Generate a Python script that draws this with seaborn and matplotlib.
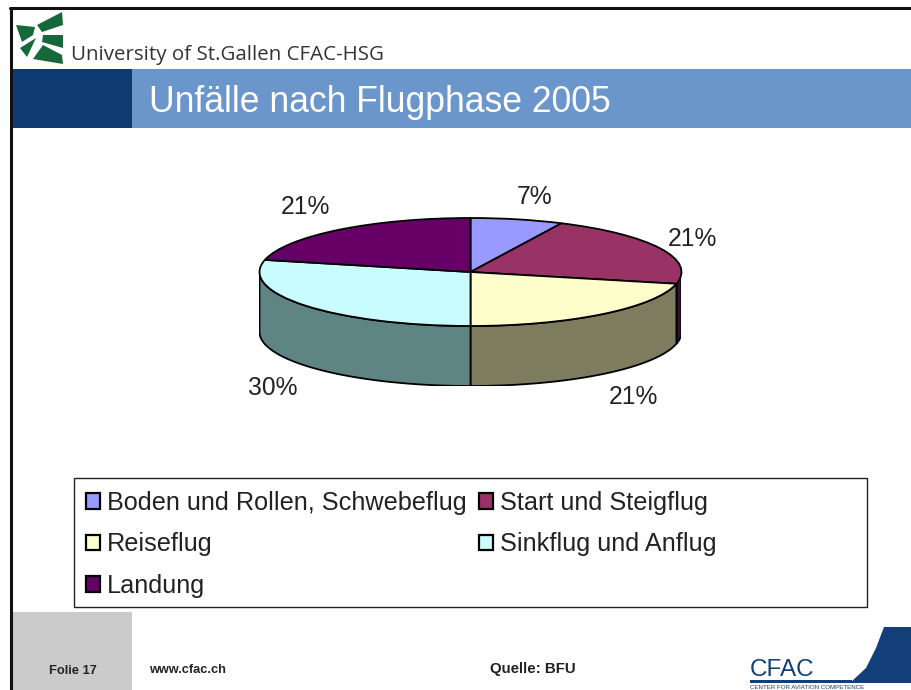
import numpy as np
import matplotlib
matplotlib.use("Agg")
import matplotlib.pyplot as plt
from matplotlib.patches import Rectangle, Polygon
import seaborn as sns

# ---- data ----
categories = ["Boden und Rollen, Schwebeflug", "Start und Steigflug", "Reiseflug",
              "Sinkflug und Anflug", "Landung"]
slice_shares = [7.1, 21.4, 21.5, 28.6, 21.4]
value_labels = ["7%", "21%", "21%", "30%", "21%"]
title_text = "Unfälle nach Flugphase 2005"
colors = ["#9999ff", "#993366", "#ffffcc", "#c8fcff", "#660066"]
wall_colors = ["#4a4a7a", "#3d0f33", "#7e7c5e", "#5f8484", "#330033"]

# ---- layout ----
sns.set_theme(style="white")
W, H = 912, 690
fig = plt.figure(figsize=(W / 100, H / 100), dpi=100, facecolor="white")
ax = fig.add_axes([0, 0, 1, 1])
ax.set_xlim(0, W)
ax.set_ylim(H, 0)
ax.axis("off")

# slide frame and bands
ax.plot([11, 11], [8, 690], color="#111111", lw=2.2)
ax.plot([10, 912], [8, 8], color="#111111", lw=2.2)
ax.add_patch(Rectangle((12, 69), 120, 59, fc="#0e3a72", ec="none"))
ax.add_patch(Rectangle((132, 69), 780, 59, fc="#6a96cb", ec="none"))
ax.add_patch(Rectangle((12, 612), 120, 78, fc="#cbcbcb", ec="none"))

# university logo
logo_green = "#14683a"
for pts in ([(37, 25), (62, 12), (63, 25), (42, 32)],
            [(16, 25), (35, 27), (33, 35), (22, 42)],
            [(43, 35), (63, 35), (63, 48), (42, 42)],
            [(20, 48), (36, 38), (27, 57)],
            [(43, 45), (62, 55), (63, 64), (33, 59)]):
    ax.add_patch(Polygon(pts, closed=True, fc=logo_green, ec="none"))

ax.text(71, 55, "University of St.Gallen CFAC-HSG", fontsize=14.75, family="Open Sans",
        color="#333333", va="center", ha="left")
ax.text(149, 103, title_text, fontsize=25.6, family="Liberation Sans",
        color="white", va="center", ha="left")

# footer
ax.text(49, 671, "Folie 17", fontsize=9.3, family="Liberation Sans", weight="bold",
        color="#222222", va="center")
ax.text(149, 670, "www.cfac.ch", fontsize=9.2, family="Liberation Sans", weight="bold",
        color="#222222", va="center")
ax.text(490, 669, "Quelle: BFU", fontsize=10.8, family="Liberation Sans", weight="bold",
        color="#222222", va="center")
ax.add_patch(Polygon([(884, 627), (912, 627), (912, 683), (850, 683), (866, 668), (876, 648)],
                     closed=True, fc="#123f7a", ec="none"))
ax.add_patch(Rectangle((750, 680), 102, 3, fc="#123f7a", ec="none"))
ax.text(750, 670, "CFAC", fontsize=17.5, family="Liberation Sans", color="#123f7a", va="center")
ax.text(750, 687.5, "CENTER FOR AVIATION COMPETENCE", fontsize=4.4, family="Liberation Sans",
        color="#123f7a", va="center")

# pie, squashed to an ellipse, with a drawn side wall
cx, cy, rx, ry, depth = 470.5, 272, 211, 54, 60
pie_ax = fig.add_axes([(cx - rx) / W, 1 - (cy + ry + depth) / H,
                       2 * rx / W, (2 * ry + depth) / H])
pie_ax.patch.set_alpha(0)
d = depth / ry

# side wall from the same shares
edges = 90 - np.cumsum([0] + slice_shares) * 3.6
for a0, a1, wc in zip(edges[:-1], edges[1:], wall_colors):
    lo, hi = max(a1, -180), min(a0, 0)   # visible front half only
    if hi <= lo:
        continue
    t = np.radians(np.linspace(hi, lo, 80))
    xs = np.cos(t)
    ys = np.sin(t)
    pts = np.column_stack([np.r_[xs, xs[::-1]], np.r_[ys, ys[::-1] - d]])
    pie_ax.add_patch(Polygon(pts, closed=True, fc=wc, ec="black", lw=1.3, zorder=1))

wedges, _ = pie_ax.pie(slice_shares, colors=colors, startangle=90, counterclock=False,
                       radius=1, wedgeprops=dict(edgecolor="black", linewidth=1.3, zorder=3))
for w in wedges:
    w.set_zorder(3)
pie_ax.set_aspect("auto")
pie_ax.set_xlim(-1, 1)
pie_ax.set_ylim(-1 - d, 1)
pie_ax.axis("off")

# value labels
label_pos = [(535, 197), (692, 239), (633, 397), (273, 388), (305, 207)]
for (x, y), s in zip(label_pos, value_labels):
    ax.text(x, y, s, fontsize=17.7, family="Liberation Sans", color="#222222",
            ha="center", va="center")

# legend
ax.add_patch(Rectangle((74, 478), 793, 129, fc="white", ec="#222222", lw=1))
order = [0, 2, 4, 1, 3]
leg = ax.legend([wedges[i] for i in order], [categories[i] for i in order],
                ncol=2, loc="upper left", bbox_to_anchor=(86 / W, 1 - 491 / H),
                bbox_transform=fig.transFigure, frameon=False,
                prop=dict(family="Liberation Sans", size=18.2),
                handlelength=0.55, handleheight=0.55, handletextpad=0.28,
                labelspacing=0.69, columnspacing=0.48, borderpad=0, borderaxespad=0)
for t in leg.get_texts():
    t.set_color("#222222")
for h in leg.legend_handles:
    h.set_edgecolor("black")
    h.set_linewidth(1.6)

fig.savefig("out.png", dpi=100)
